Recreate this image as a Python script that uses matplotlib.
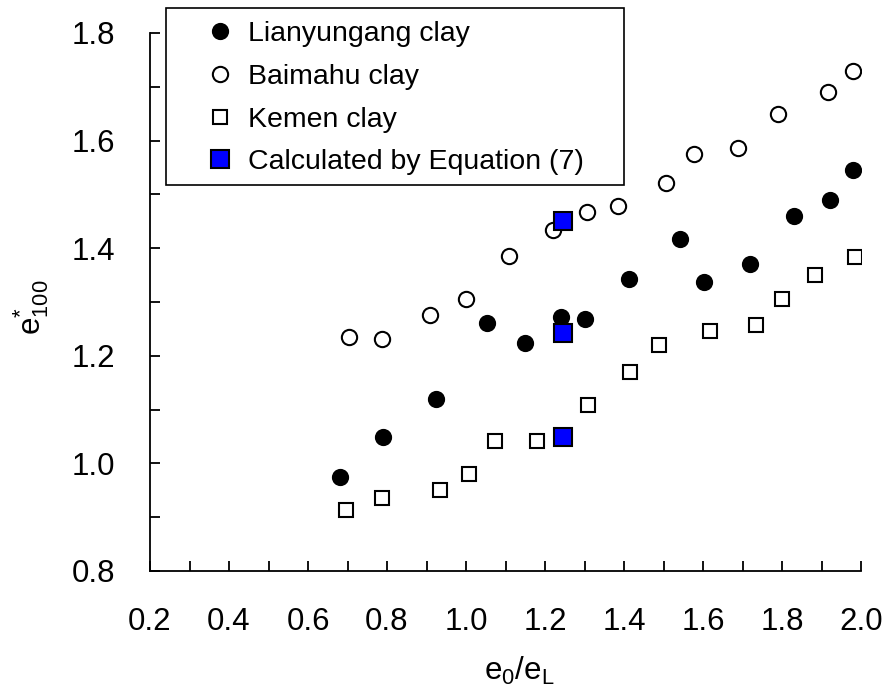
import numpy as np
import matplotlib
matplotlib.use("Agg")
import matplotlib.pyplot as plt
from matplotlib.ticker import MultipleLocator
from matplotlib.patches import Rectangle

# ------------------------- Data ------------------------- #
lyg_x = [0.68, 0.79, 0.923, 1.054, 1.15, 1.241, 1.302, 1.412, 1.542, 1.603, 1.718, 1.831, 1.921, 1.981]
lyg_y = [0.975, 1.050, 1.120, 1.261, 1.223, 1.273, 1.268, 1.342, 1.417, 1.338, 1.371, 1.460, 1.490, 1.546]

bmh_x = [0.705, 0.787, 0.908, 0.999, 1.109, 1.220, 1.306, 1.386, 1.507, 1.578, 1.689, 1.790, 1.916, 1.981]
bmh_y = [1.235, 1.231, 1.276, 1.305, 1.386, 1.434, 1.468, 1.479, 1.521, 1.576, 1.587, 1.649, 1.690, 1.730]

km_x = [0.696, 0.787, 0.933, 1.008, 1.074, 1.179, 1.310, 1.416, 1.488, 1.618, 1.734, 1.800, 1.884, 1.986]
km_y = [0.913, 0.935, 0.951, 0.980, 1.042, 1.042, 1.109, 1.169, 1.220, 1.246, 1.257, 1.305, 1.350, 1.383]

calc_x = [1.245, 1.245, 1.245]
calc_y = [1.450, 1.242, 1.050]

x_ticks = [0.2, 0.4, 0.6, 0.8, 1.0, 1.2, 1.4, 1.6, 1.8, 2.0]
y_ticks = [0.8, 1.0, 1.2, 1.4, 1.6, 1.8]

# ------------------------- Plot ------------------------- #
plt.rcParams['font.family'] = ['Liberation Sans', 'DejaVu Sans']
plt.rcParams['mathtext.fontset'] = 'custom'
plt.rcParams['mathtext.rm'] = 'Liberation Sans'
plt.rcParams['mathtext.it'] = 'Liberation Sans'

W, H = 883, 691
fig = plt.figure(figsize=(W / 100, H / 100), dpi=100)
ax = fig.add_axes([150 / W, 1 - 571 / H, 711 / W, 538 / H])

ax.plot(lyg_x, lyg_y, 'o', ms=11.2, mfc='black', mec='black', mew=1.2,
        ls='none', label='Lianyungang clay')
ax.plot(bmh_x, bmh_y, 'o', ms=11, mfc='white', mec='black', mew=1.5,
        ls='none', label='Baimahu clay')
ax.plot(km_x, km_y, 's', ms=10.5, mfc='white', mec='black', mew=1.5,
        ls='none', label='Kemen clay')
ax.plot(calc_x, calc_y, 's', ms=13.5, mfc='#0000ff', mec='black', mew=1.5,
        ls='none', label='Calculated by Equation (7)', zorder=5)

ax.set_xlim(0.2, 2.0)
ax.set_ylim(0.8, 1.8)
ax.set_xticks(x_ticks)
ax.set_yticks(y_ticks)
ax.xaxis.set_minor_locator(MultipleLocator(0.1))
ax.yaxis.set_minor_locator(MultipleLocator(0.1))
ax.xaxis.set_major_formatter(plt.FormatStrFormatter('%.1f'))
ax.yaxis.set_major_formatter(plt.FormatStrFormatter('%.1f'))

for s in ['top', 'right']:
    ax.spines[s].set_visible(False)
for s in ['left', 'bottom']:
    ax.spines[s].set_linewidth(1.3)

ax.tick_params(which='both', direction='in', length=7, width=1.3, labelsize=22.5)
ax.tick_params(axis='x', which='major', pad=26)
ax.tick_params(axis='y', which='major', pad=25)

ax.set_xlabel(r'$\mathregular{e_0/e_L}$', fontsize=22.5, va='top')
ax.xaxis.set_label_coords((519 - 150) / 711, (571 - 655) / 538)
ax.set_ylabel(r'$\mathregular{e^{*}_{100}}$', fontsize=22.5)
ax.yaxis.set_label_coords((51 - 150) / 711, 0.49)

leg = fig.legend(loc='upper left', bbox_to_anchor=(204 / W, 1 - 21 / H),
                 fontsize=20.5, frameon=False,
                 borderaxespad=0, borderpad=0, handlelength=1.1,
                 handletextpad=0.46, labelspacing=0.59)

# legend box drawn separately (uneven padding in the original)
fig.patches.append(Rectangle((166 / W, 1 - 185 / H), (624 - 166) / W, 177 / H,
                             transform=fig.transFigure, fill=False,
                             edgecolor='black', linewidth=1.2, zorder=10))

fig.savefig('out.png', dpi=100)
